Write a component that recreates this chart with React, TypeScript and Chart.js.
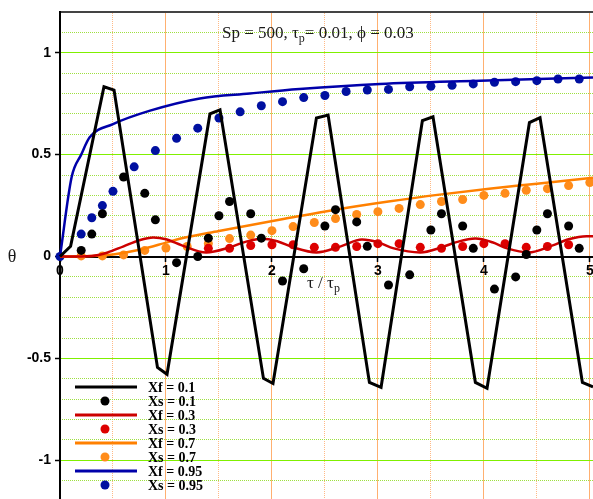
import { useEffect, useRef } from "react";
import { Chart, registerables } from "chart.js";

Chart.register(...registerables);

const W = 593;
const H = 499;

// ---- series data ----
const xf01X = [0, 0.1, 0.415, 0.51, 0.92, 1.01, 1.415, 1.51, 1.92, 2.01, 2.42, 2.53, 2.92, 3.03, 3.42, 3.52, 3.92, 4.03, 4.43, 4.53, 4.93, 5.03];
const xf01Y = [0, 0.05, 0.833, 0.817, -0.544, -0.578, 0.70, 0.72, -0.598, -0.623, 0.68, 0.694, -0.618, -0.642, 0.667, 0.686, -0.618, -0.647, 0.657, 0.681, -0.618, -0.64];

const xs01X = [0.2, 0.3, 0.4, 0.6, 0.8, 0.9, 1.1, 1.3, 1.4, 1.5, 1.6, 1.8, 1.9, 2.1, 2.3, 2.5, 2.6, 2.8, 2.9, 3.1, 3.3, 3.5, 3.6, 3.8, 3.9, 4.1, 4.3, 4.4, 4.5, 4.6, 4.8, 4.9];
const xs01Y = [0.03, 0.11, 0.21, 0.39, 0.31, 0.18, -0.03, 0.0, 0.09, 0.2, 0.27, 0.21, 0.09, -0.12, -0.06, 0.15, 0.23, 0.17, 0.05, -0.14, -0.09, 0.13, 0.21, 0.15, 0.04, -0.16, -0.1, 0.01, 0.13, 0.21, 0.15, 0.04];

const xf03X = [0, 0.3, 0.45, 0.6, 0.75, 0.88, 1.0, 1.15, 1.38, 1.6, 1.75, 1.9, 2.05, 2.2, 2.42, 2.65, 2.85, 3.0, 3.15, 3.4, 3.6, 3.75, 3.92, 4.08, 4.22, 4.42, 4.65, 4.8, 4.97, 5.03];
const xf03Y = [0, 0.003, 0.02, 0.05, 0.08, 0.093, 0.085, 0.055, 0.02, 0.045, 0.072, 0.087, 0.075, 0.045, 0.02, 0.05, 0.083, 0.07, 0.04, 0.02, 0.045, 0.072, 0.088, 0.07, 0.04, 0.02, 0.055, 0.085, 0.1, 0.1];

const xs03X = [1.4, 1.6, 1.8, 2.0, 2.2, 2.4, 2.6, 2.8, 3.0, 3.2, 3.4, 3.6, 3.8, 4.0, 4.2, 4.4, 4.6, 4.8];
const xs03Y = [0.04, 0.04, 0.054, 0.058, 0.058, 0.045, 0.045, 0.049, 0.063, 0.063, 0.045, 0.04, 0.049, 0.063, 0.063, 0.045, 0.049, 0.058];

const xf07X = [0, 0.3, 0.5, 0.75, 1.0, 1.13, 1.5, 2.12, 2.6, 3.1, 3.6, 4.05, 4.5, 5.03];
const xf07Y = [0, 0.002, 0.01, 0.033, 0.068, 0.087, 0.125, 0.185, 0.23, 0.27, 0.305, 0.333, 0.357, 0.386];

const xs07X = [0.2, 0.4, 0.6, 0.8, 1.0, 1.2, 1.4, 1.6, 1.8, 2.0, 2.2, 2.4, 2.6, 2.8, 3.0, 3.2, 3.4, 3.6, 3.8, 4.0, 4.2, 4.4, 4.6, 4.8, 5.0];
const xs07Y = [0.003, 0.003, 0.008, 0.03, 0.042, 0.049, 0.064, 0.088, 0.105, 0.127, 0.147, 0.167, 0.186, 0.206, 0.22, 0.236, 0.255, 0.27, 0.28, 0.3, 0.31, 0.325, 0.333, 0.348, 0.363];

const xf095X = [0, 0.11, 0.2, 0.28, 0.5, 0.85, 1.32, 1.79, 2.26, 3.02, 3.96, 5.03];
const xf095Y = [0, 0.39, 0.5, 0.585, 0.65, 0.716, 0.776, 0.8, 0.822, 0.847, 0.863, 0.879];

const xs095X = [0, 0.2, 0.3, 0.4, 0.5, 0.7, 0.9, 1.1, 1.3, 1.5, 1.7, 1.9, 2.1, 2.3, 2.5, 2.7, 2.9, 3.1, 3.3, 3.5, 3.7, 3.9, 4.1, 4.3, 4.5, 4.7, 4.9];
const xs095Y = [0, 0.11, 0.19, 0.25, 0.32, 0.44, 0.52, 0.58, 0.63, 0.68, 0.71, 0.74, 0.76, 0.78, 0.79, 0.81, 0.817, 0.82, 0.833, 0.835, 0.84, 0.847, 0.855, 0.858, 0.863, 0.871, 0.871];

const seriesLabels = ["Xf = 0.1", "Xs = 0.1", "Xf = 0.3", "Xs = 0.3", "Xf = 0.7", "Xs = 0.7", "Xf = 0.95", "Xs = 0.95"];

// ---- axes ----
const xTicks = [0, 1, 2, 3, 4, 5];
const xMinorTicks = [0.5, 1.5, 2.5, 3.5, 4.5];
const yTicks = [-1, -0.5, 0, 0.5, 1];
const yMinorTicks = [-1.1, -0.9, -0.8, -0.7, -0.6, -0.4, -0.3, -0.2, -0.1, 0.1, 0.2, 0.3, 0.4, 0.6, 0.7, 0.8, 0.9, 1.1];
const xMin = 0, xMax = 5.03, yMin = -1.19, yMax = 1.2;

const titleParts = ["Sp = 500, τ", "p", "= 0.01, ϕ = 0.03"];
const xTitleParts = ["τ / τ", "p"];
const yTitle = "θ";

const SERIF = '"Liberation Serif", "Times New Roman", serif';
const SANS = '"Liberation Sans", Arial, sans-serif';

const pts = (xs: number[], ys: number[]) => xs.map((x, i) => ({ x, y: ys[i] }));

function lineDs(label: string, xs: number[], ys: number[], color: string, width: number, smooth: boolean) {
  return {
    label,
    data: pts(xs, ys),
    showLine: true,
    borderColor: color,
    backgroundColor: color,
    borderWidth: width,
    pointRadius: 0,
    tension: 0,
    cubicInterpolationMode: smooth ? "monotone" : "default",
    clip: false,
  };
}
function dotDs(label: string, xs: number[], ys: number[], color: string) {
  return {
    label,
    data: pts(xs, ys),
    showLine: false,
    backgroundColor: color,
    borderColor: color,
    borderWidth: 0,
    pointRadius: 4.5,
    clip: false,
  };
}

function drawRich(ctx: CanvasRenderingContext2D, x: number, y: number, parts: string[], size: number, subSize: number) {
  let cx = x;
  parts.forEach((t, i) => {
    const sub = i % 2 === 1;
    ctx.font = `${sub ? subSize : size}px ${SERIF}`;
    ctx.fillText(t, cx, sub ? y + 4 : y);
    cx += ctx.measureText(t).width;
  });
}

const textPlugin = {
  id: "texts",
  afterDraw(chart: any) {
    const ctx: CanvasRenderingContext2D = chart.ctx;
    ctx.save();
    ctx.fillStyle = "#1a1a1a";
    ctx.textAlign = "left";
    ctx.textBaseline = "alphabetic";
    drawRich(ctx, 222, 38, titleParts, 17, 12);
    drawRich(ctx, 307, 288, xTitleParts, 17, 12);
    ctx.font = `18px ${SERIF}`;
    ctx.textAlign = "center";
    ctx.textBaseline = "middle";
    ctx.fillText(yTitle, 12, 257);
    // legend
    chart.data.datasets.forEach((ds: any, i: number) => {
      const y = 387 + i * 14;
      if (ds.showLine) {
        ctx.strokeStyle = ds.borderColor;
        ctx.lineWidth = 3;
        ctx.beginPath();
        ctx.moveTo(75, y);
        ctx.lineTo(137, y);
        ctx.stroke();
      } else {
        ctx.fillStyle = ds.backgroundColor;
        ctx.beginPath();
        ctx.arc(105, y, 4.5, 0, Math.PI * 2);
        ctx.fill();
      }
      ctx.fillStyle = "#000";
      ctx.font = `bold 14px ${SERIF}`;
      ctx.textAlign = "left";
      ctx.textBaseline = "middle";
      ctx.fillText(ds.label, 148, y + 1);
    });
    ctx.restore();
  },
};

const zeroPad = (s: any) => {
  s.paddingLeft = 0;
  s.paddingRight = 0;
  s.paddingTop = 0;
  s.paddingBottom = 0;
};

export default function App() {
  const ref = useRef<HTMLCanvasElement>(null);
  useEffect(() => {
    const datasets: any[] = [
      lineDs(seriesLabels[0], xf01X, xf01Y, "#000000", 3, false),
      dotDs(seriesLabels[1], xs01X, xs01Y, "#000000"),
      lineDs(seriesLabels[2], xf03X, xf03Y, "#cc0000", 2.5, true),
      dotDs(seriesLabels[3], xs03X, xs03Y, "#dd0000"),
      lineDs(seriesLabels[4], xf07X, xf07Y, "#ff8000", 2.5, true),
      dotDs(seriesLabels[5], xs07X, xs07Y, "#ff8c1a"),
      lineDs(seriesLabels[6], xf095X, xf095Y, "#0000aa", 2.5, true),
      dotDs(seriesLabels[7], xs095X, xs095Y, "#0010a0"),
    ];
    const tickFont = { family: SANS, size: 14, weight: "bold" as const };
    const chart = new Chart(ref.current!, {
      type: "scatter",
      data: { datasets },
      options: {
        responsive: false,
        animation: false,
        devicePixelRatio: 1,
        layout: { padding: { top: 12, left: 0, right: 0, bottom: 0 }, autoPadding: false },
        plugins: { legend: { display: false }, tooltip: { enabled: false }, title: { display: false } },
        scales: {
          x: {
            type: "linear",
            min: xMin,
            max: xMax,
            position: { y: 0 } as any,
            afterBuildTicks: (s: any) => { s.ticks = xTicks.map((v) => ({ value: v })); },
            afterFit: zeroPad,
            grid: { color: "#ffb070", lineWidth: 1, z: -1, drawTicks: true, tickLength: 4, tickColor: "#000", tickWidth: 1.5 },
            border: { display: true, color: "#000", width: 2 },
            ticks: { font: tickFont, color: "#000", padding: 2, maxRotation: 0, autoSkip: false, callback: (v: any) => String(v) },
          },
          xMinor: {
            type: "linear",
            min: xMin,
            max: xMax,
            position: "top",
            afterBuildTicks: (s: any) => { s.ticks = xMinorTicks.map((v) => ({ value: v })); },
            afterFit: (s: any) => { s.height = 0; zeroPad(s); },
            grid: { color: "#ffba85", lineWidth: 1, z: -2, drawTicks: false },
            border: { display: true, color: "#444", width: 2, dash: [1, 1] },
            ticks: { display: false },
          },
          y: {
            type: "linear",
            min: yMin,
            max: yMax,
            position: "left",
            afterBuildTicks: (s: any) => { s.ticks = yTicks.map((v) => ({ value: v })); },
            afterFit: (s: any) => { s.width = 60; zeroPad(s); },
            grid: { color: "#80f000", lineWidth: 1, z: -1, drawTicks: true, tickLength: 5, tickColor: "#000", tickWidth: 1.5 },
            border: { display: true, color: "#000", width: 2 },
            ticks: { font: tickFont, color: "#000", padding: 4, autoSkip: false, callback: (v: any) => String(v) },
          },
          yMinor: {
            type: "linear",
            min: yMin,
            max: yMax,
            position: "left",
            afterBuildTicks: (s: any) => { s.ticks = yMinorTicks.map((v) => ({ value: v })); },
            afterFit: (s: any) => { s.width = 0; zeroPad(s); },
            grid: { color: "#9ee040", lineWidth: 1, z: -2, drawTicks: false },
            border: { display: false, dash: [1, 1] },
            ticks: { display: false },
          },
        } as any,
      },
      plugins: [textPlugin],
    } as any);
    return () => chart.destroy();
  }, []);
  return (
    <div style={{ position: "absolute", left: 0, top: 0, width: W, height: H, background: "#fff" }}>
      <canvas ref={ref} width={W} height={H} style={{ display: "block", width: W, height: H }} />
    </div>
  );
}
